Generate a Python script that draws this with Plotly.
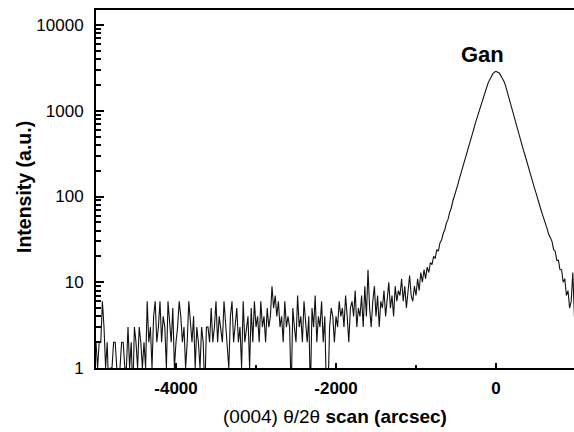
import plotly.graph_objects as go

# scan positions (arcsec): start and step of the measured grid
x_start = -5000
x_step = 20

# intensity readings (a.u.), one per scan position
noise_part = [
    2, 1, 2, 2, 6, 3, 1, 2, 0.5, 1,
    1, 2, 2, 1, 0.5, 1, 2, 2, 1, 1,
    3, 1, 2, 0.5, 3, 2, 1, 3, 2, 1,
    2, 1, 6, 2, 3, 1, 4, 6, 2, 3,
    6, 2, 4, 3, 1, 6, 3, 2, 5, 1,
    2, 3, 6, 4, 2, 3, 1, 2, 6, 3,
    2, 4, 1, 3, 2, 1, 3, 2, 0.5, 3,
    3, 2, 5, 2, 3, 6, 2, 4, 3, 2,
    6, 3, 2, 1, 4, 6, 2, 3, 5, 2,
    3, 1, 6, 2, 3, 4, 1, 5, 2, 6,
    3, 4, 2, 6, 3, 4, 2, 5, 3, 4,
    9, 5, 7, 4, 6, 3, 4, 2, 6, 3,
    4, 3, 0.5, 5, 3, 2, 7, 3, 4, 2,
    6, 3, 2, 4, 0.5, 5, 3, 7, 2, 4,
    3, 6, 2, 4, 0.5, 0.5, 3, 5, 4, 2,
    4, 3, 6, 4, 5, 3, 7, 4, 2, 5,
    6, 4, 8, 3, 5, 4, 7, 3, 9, 4,
    14, 5, 3, 6, 9, 4, 7, 3, 6, 5,
    8, 4, 6, 10, 5, 7, 4, 9, 6, 8,
    7, 11, 6, 9, 5, 8, 12, 7, 6, 9,
]
left_flank = [
    7, 11, 8, 13, 10, 14, 11, 15, 13, 17,
    16, 20, 19, 24, 23, 29, 31, 37, 41, 49,
    54, 65, 73, 88, 100, 117, 135, 158, 182, 214,
    245, 288, 331, 389, 447, 525, 603, 708, 813, 955,
    1096, 1259, 1445, 1660, 1862, 2089, 2291, 2512, 2692, 2818,
    2884,
]
right_flank = [
    2818, 2754, 2570, 2399, 2188, 1950, 1660, 1413, 1202, 1023,
    871, 759, 646, 562, 479, 417, 355, 309, 263, 229,
    200, 170, 148, 126, 110, 93, 81, 71, 62, 55,
    48, 42, 36, 32, 30, 24, 23, 18, 18, 14,
    14, 10, 11, 7, 8, 5, 6, 13, 4,
]
intensity = noise_part + left_flank + right_flank
scan = [x_start + i * x_step for i in range(len(intensity))]

x_ticks = [-4000, -2000, 0]
x_tick_text = ["-4000", "-2000", "0"]
x_minor_ticks = [-5000, -3000, -1000, 1000]
y_ticks = [1, 10, 100, 1000, 10000]
y_tick_text = ["1", "10", "100", "1000", "10000"]
y_minor_ticks = [m * d for d in (1, 10, 100, 1000) for m in range(2, 10)]

peak_label = "Gan"
x_title = "(0004) θ/2θ <b>scan (arcsec)</b>"
y_title = "<b>Intensity (a.u.)</b>"

fig = go.Figure()
fig.add_trace(go.Scatter(
    x=scan, y=intensity, mode="lines",
    line=dict(color="#111111", width=1.1),
    showlegend=False,
))

font = "Liberation Sans, Arial, sans-serif"
fig.update_layout(
    width=574, height=432,
    margin=dict(l=96, r=0, t=10, b=64),
    paper_bgcolor="white", plot_bgcolor="white",
    font=dict(family=font, color="black"),
    xaxis=dict(
        range=[-5000, 975],
        tickvals=x_ticks, ticktext=["<b>%s</b>" % t for t in x_tick_text],
        ticks="inside", ticklen=5, tickwidth=2, tickcolor="black",
        minor=dict(ticks="inside", ticklen=3, tickwidth=1.5, tickvals=x_minor_ticks,
                   tickcolor="black", showgrid=False),
        showline=True, linecolor="black", linewidth=2, mirror=True,
        showgrid=False, zeroline=False,
        tickfont=dict(size=17, family=font),
        ticklabelstandoff=4,
    ),
    yaxis=dict(
        type="log", range=[0, 4.175],
        tickvals=y_ticks, ticktext=y_tick_text,
        ticks="inside", ticklen=8, tickwidth=2, tickcolor="black",
        minor=dict(ticks="inside", ticklen=5, tickwidth=1.5, tickvals=y_minor_ticks,
                   tickcolor="black", showgrid=False),
        showline=True, linecolor="black", linewidth=2,
        showgrid=False, zeroline=False,
        tickfont=dict(size=17, family=font),
        ticklabelstandoff=7,
    ),
)

pw, ph = 574 - 96, 432 - 10 - 64
fig.add_annotation(x=-163, y=3.66, xref="x", yref="y", text="<b>%s</b>" % peak_label,
                   showarrow=False, font=dict(size=22, family=font))
fig.add_annotation(xref="paper", yref="paper", x=(335 - 96) / pw, y=(368 - 417) / ph,
                   xanchor="center", yanchor="middle", text=x_title, showarrow=False,
                   font=dict(size=19, family=font))
fig.add_annotation(xref="paper", yref="paper", x=(24 - 96) / pw, y=(368 - 187) / ph,
                   xanchor="center", yanchor="middle", text=y_title, showarrow=False,
                   textangle=-90, font=dict(size=19.5, family=font))

fig.write_html("out.html")
